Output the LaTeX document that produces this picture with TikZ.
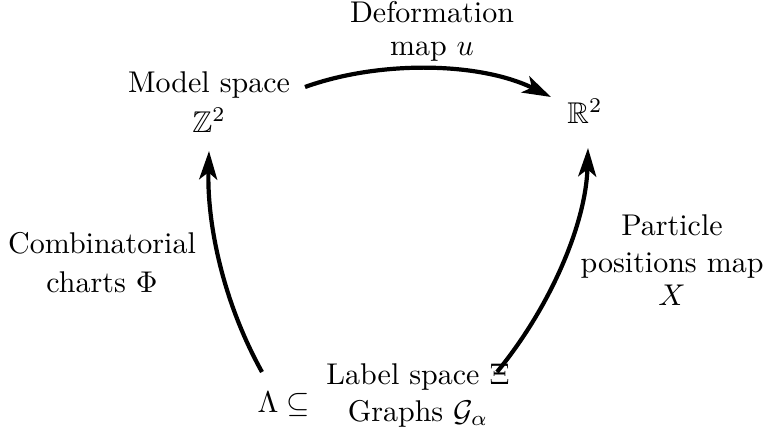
\documentclass[tikz,border=0pt]{standalone}
\usepackage{amssymb}
\usetikzlibrary{arrows.meta}
\begin{document}
\begin{tikzpicture}[x=0.3333pt,y=-0.3333pt,
  lbl/.style={align=center,inner sep=0pt,anchor=base,font=\normalsize},
  arr/.style={line width=1.4pt,-{Stealth[length=9.5pt,width=6pt,inset=2.4pt]}}]
\useasboundingbox (0,0) rectangle (769,438);
\node[lbl] (model) at (209,132) {Model space\\[1.3pt]$\mathbb{Z}^2$};
\node[lbl] (r2) at (585,123) {$\mathbb{R}^2$};
\node[lbl] (lam) at (284,412) {$\Lambda\subseteq$};
\node[lbl] (label) at (418,421) {Label space $\Xi$\\[0.3pt]Graphs $\mathcal{G}_\alpha$};
\node[lbl] (deform) at (432,55) {Deformation\\[-1.3pt]map $u$};
\node[lbl] (charts) at (102,292) {Combinatorial\\[1pt]charts $\Phi$};
\node[lbl] (particle) at (672,305) {Particle\\[0pt]positions map\\[-1pt]$X$};
\coordinate (a1) at (305,87);
\coordinate (a2) at (551,97);
\coordinate (b1) at (262,372);
\coordinate (b2) at (209,151);
\coordinate (c1) at (497,372);
\coordinate (c2) at (588,148);
\draw[arr] (a1) .. controls (380,60) and (480,62) .. (a2);
\draw[arr] (b1) .. controls (222,300) and (207,222) .. (b2);
\draw[arr] (c1) .. controls (552,305) and (586,222) .. (c2);
\end{tikzpicture}
\end{document}
